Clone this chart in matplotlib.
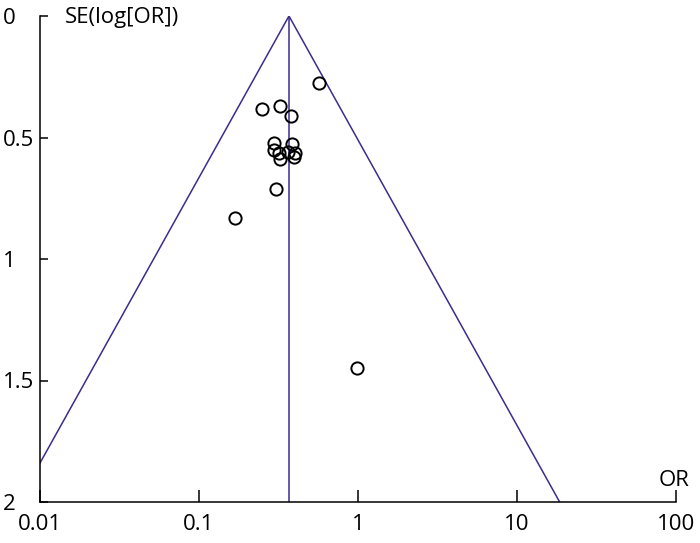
import numpy as np
import matplotlib
matplotlib.use("Agg")
import matplotlib.pyplot as plt

plt.rcParams['font.family'] = ['Open Sans', 'DejaVu Sans']

# study estimates
odds_ratio = [0.569, 0.249, 0.323, 0.379, 0.386, 0.296, 0.295, 0.317,
              0.323, 0.402, 0.396, 0.363, 0.305, 0.169, 0.987]
se_log_or = [0.276, 0.383, 0.370, 0.412, 0.527, 0.523, 0.551, 0.562,
             0.590, 0.565, 0.582, 0.558, 0.712, 0.830, 1.449]
pooled_or = 0.368
x_ticks = [0.01, 0.1, 1, 10, 100]
x_labels = ['0.01', '0.1', '1', '10', '100']
y_ticks = [0, 0.5, 1, 1.5, 2]
y_labels = ['0', '0.5', '1', '1.5', '2']

line_col = '#3d2b8e'

fig = plt.figure(figsize=(7, 5.43), dpi=100)
ax = fig.add_axes([40 / 700, 41 / 543, 636 / 700, 486 / 543])

# funnel (95% pseudo confidence limits) and pooled estimate
se_grid = np.array([0, 2])
ax.plot(pooled_or * np.exp(-1.96 * se_grid), se_grid, color=line_col, lw=1.1)
ax.plot(pooled_or * np.exp(1.96 * se_grid), se_grid, color=line_col, lw=1.1)
ax.plot([pooled_or, pooled_or], [0, 2], color=line_col, lw=1.1)

ax.plot(odds_ratio, se_log_or, 'o', ms=8.8, mfc='none', mec='black', mew=1.4)

ax.set_xscale('log')
ax.set_xlim(0.01, 100)
ax.set_ylim(2, 0)
ax.set_xticks(x_ticks)
ax.set_xticklabels(x_labels)
ax.minorticks_off()
ax.set_yticks(y_ticks)
ax.set_yticklabels(y_labels)

for s in ['top', 'right']:
    ax.spines[s].set_visible(False)
for s in ['left', 'bottom']:
    ax.spines[s].set_linewidth(1.1)

ax.tick_params(axis='x', direction='in', length=9, width=1.1, labelsize=16, pad=9)
ax.tick_params(axis='y', direction='in', length=6, width=1.1, labelsize=16, pad=27)
for lab in ax.get_yticklabels():
    lab.set_horizontalalignment('left')

fig.text(65 / 700, 1 - 18 / 543, 'SE(log[OR])', fontsize=16, va='center', ha='left')
fig.text(690 / 700, 1 - 480 / 543, 'OR', fontsize=16, va='center', ha='right')

fig.savefig('out.png', dpi=100)
